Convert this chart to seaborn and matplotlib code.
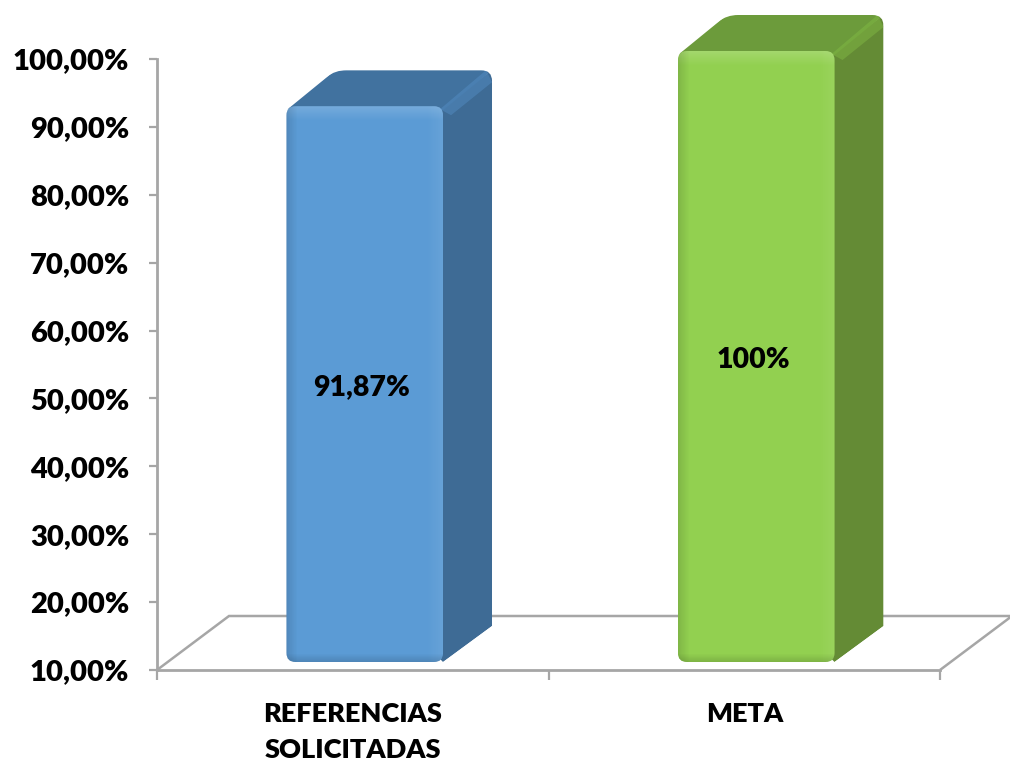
import matplotlib
matplotlib.use("Agg")
import matplotlib.pyplot as plt
import numpy as np
import pandas as pd
import seaborn as sns
from matplotlib.patches import FancyBboxPatch, Polygon, Rectangle
from matplotlib.path import Path
from matplotlib.transforms import IdentityTransform

categories = ["REFERENCIAS\nSOLICITADAS", "META"]
values = [91.87, 100]
value_labels = ["91,87%", "100%"]
y_ticks = [10, 20, 30, 40, 50, 60, 70, 80, 90, 100]
y_labels = ["10,00%", "20,00%", "30,00%", "40,00%", "50,00%",
            "60,00%", "70,00%", "80,00%", "90,00%", "100,00%"]

front_colors = ["#5b9bd5", "#92d050"]
side_colors = ["#3e6b95", "#648b35"]
top_colors = ["#41729f", "#6c9b3b"]
ridge_colors = ["#5590c8", "#84bd45"]
grey = "#a6a6a6"

W, H = 1010, 762
DEPTH = (49, 36)        # bar depth in pixels
FLOOR = (72, 54)        # floor depth in pixels
WEIGHT = 800


def rounded_outline(points, rounded, r=11):
    '''Closed path through points, with a curve at the corners listed in rounded.'''
    verts, codes = [], []
    pts = np.array(points, dtype=float)
    for i, p in enumerate(pts):
        if i in rounded:
            prev = pts[i - 1]
            nxt = pts[(i + 1) % len(pts)]
            a = p + (prev - p) / np.linalg.norm(prev - p) * r
            b = p + (nxt - p) / np.linalg.norm(nxt - p) * r
            verts += [a, p, b]
            codes += [Path.LINETO, Path.CURVE3, Path.CURVE3]
        else:
            verts.append(p)
            codes.append(Path.LINETO)
    codes[0] = Path.MOVETO
    verts.append(verts[0])
    codes.append(Path.CLOSEPOLY)
    return Path(np.array(verts), codes)


def draw_frame(ax):
    '''Left axis, bottom axis and the floor of the 3D box.'''
    ax.set_xlim(0, 2)
    ax.set_ylim(10, 100)
    ax.set_yticks(y_ticks, y_labels)
    ax.set_xticks([0, 1, 2], ["", "", ""])
    ax.set_xticks([0.5, 1.5], categories, minor=True)
    ax.tick_params(axis="y", left=True, length=6, width=1.6, color=grey, pad=14, labelsize=21)
    ax.tick_params(axis="x", which="major", bottom=True, length=7, width=1.6, color=grey)
    ax.tick_params(axis="x", which="minor", bottom=False, length=0, pad=23, labelsize=19.5)
    for label in ax.get_yticklabels() + ax.get_xticklabels(minor=True):
        label.set_fontweight(WEIGHT)
        label.set_color("black")
    for label in ax.get_xticklabels(minor=True):
        label.set_linespacing(1.6)
        label.set_verticalalignment("top")
    sns.despine(ax=ax)
    for name in ("left", "bottom"):
        ax.spines[name].set_color(grey)
        ax.spines[name].set_linewidth(2)
    # floor: bottom edge of the plot pushed back by the depth
    x0, y0 = ax.transData.transform((0, 10))
    x1, y1 = ax.transData.transform((2, 10))
    floor = [(x0, y0), (x0 + FLOOR[0], y0 + FLOOR[1]), (x1 + FLOOR[0], y1 + FLOOR[1]), (x1, y1)]
    ax.add_patch(Polygon(floor, closed=False, fill=False, edgecolor=grey, lw=1.8,
                         transform=IdentityTransform(), clip_on=False))


def draw_bevel(ax, patch_path, x0, y0, x1, y1):
    '''Soft strips along the edges of the front face.'''
    identity = IdentityTransform()
    strips = [
        ("white", lambda k: (x0, y1 - k - 1, x1 - x0, 1), 14, 0.16),
        ("white", lambda k: (x1 - k - 1, y0, 1, y1 - y0), 16, 0.07),
        ("black", lambda k: (x0 + k, y0, 1, y1 - y0), 11, 0.12),
        ("black", lambda k: (x0, y0 + k, x1 - x0, 1), 8, 0.13),
    ]
    for color, box, n, alpha in strips:
        for k in range(n):
            bx, by, bw, bh = box(k)
            r = Rectangle((bx, by), bw, bh, facecolor=color, edgecolor="none",
                          alpha=alpha * (1 - k / n), transform=identity, zorder=3)
            ax.add_patch(r)
            r.set_clip_box(None)
            r.set_clip_path(patch_path, identity)


def draw_bars(ax):
    '''Front faces with seaborn, then the side and top faces taken from each bar.'''
    df = pd.DataFrame({"categoria": categories, "valor": values})
    sns.barplot(data=df, x="categoria", y="valor", hue="categoria", palette=front_colors,
                width=0.4, legend=False, saturation=1, linewidth=0, edgecolor="none", ax=ax)
    ax.set_xlim(-0.5, 1.5)
    ax.set_ylim(10, 100)
    ax.axis("off")
    identity = IdentityTransform()
    dx, dy = DEPTH
    for i, bar in enumerate(list(ax.patches)):
        left, right = bar.get_x(), bar.get_x() + bar.get_width()
        x0, y0 = ax.transData.transform((left, 10))
        x1, y1 = ax.transData.transform((right, bar.get_height()))

        # faces start a few pixels under the front face so no seam shows
        lap = 4
        outline = rounded_outline(
            [(x0 + lap, y1 - lap), (x0, y1 - 1), (x0 + dx, y1 + dy), (x1 + dx, y1 + dy),
             (x1 + dx, y0 + dy), (x1, y0), (x1 - lap, y0 + lap)],
            rounded=[2, 3])
        side = Polygon([(x1 - lap, y0), (x1 - lap, y1), (x1, y1), (x1 + dx, y1 + dy),
                        (x1 + dx, y0 + dy), (x1, y0)],
                       facecolor=side_colors[i], edgecolor="none", transform=identity, zorder=1)
        top = Polygon([(x0, y1 - lap), (x0 + dx, y1 + dy), (x1 + dx, y1 + dy), (x1, y1 - lap)],
                      facecolor=top_colors[i], edgecolor="none", transform=identity, zorder=1)
        ridge = Polygon([(x1 - 3, y1 - 3), (x1 + dx - 6, y1 + dy), (x1 + dx, y1 + dy - 12), (x1 + 8, y1 - 9)],
                        facecolor=ridge_colors[i], edgecolor="none", alpha=0.45,
                        transform=identity, zorder=2)
        for face in (side, top, ridge):
            ax.add_patch(face)
            face.set_clip_box(None)
            face.set_clip_path(outline, identity)

        front = FancyBboxPatch((x0, y0), x1 - x0, y1 - y0, boxstyle="round,pad=0,rounding_size=9",
                               transform=identity)
        front_path = front.get_path()
        bar.set_zorder(2.5)
        bar.set_clip_box(None)
        bar.set_clip_path(front_path, identity)
        draw_bevel(ax, front_path, x0, y0, x1, y1)

        ax.annotate(value_labels[i], (i, (values[i] + 10) / 2), xytext=(-3, -3),
                    textcoords="offset pixels", ha="center", va="center",
                    fontsize=20.5, fontweight=WEIGHT, color="black", zorder=5)


def main():
    sns.set_style("white")
    plt.rcParams["font.family"] = ["Lato", "DejaVu Sans"]
    fig = plt.figure(figsize=(W / 100, H / 100), dpi=100)
    fig.patch.set_facecolor("white")

    # plot box: x 157..940, y 59..670 in picture pixels
    box = [157 / W, (H - 670) / H, 783 / W, 611 / H]
    ax = fig.add_axes(box)
    draw_frame(ax)

    # bars sit a little right of and above the axis, as in a 3D chart
    ax_bars = fig.add_axes([box[0] + 12 / W, box[1] + 8 / H, box[2], box[3]])
    ax_bars.patch.set_alpha(0)
    draw_bars(ax_bars)

    fig.savefig("out.png", dpi=100)


if __name__ == "__main__":
    main()
